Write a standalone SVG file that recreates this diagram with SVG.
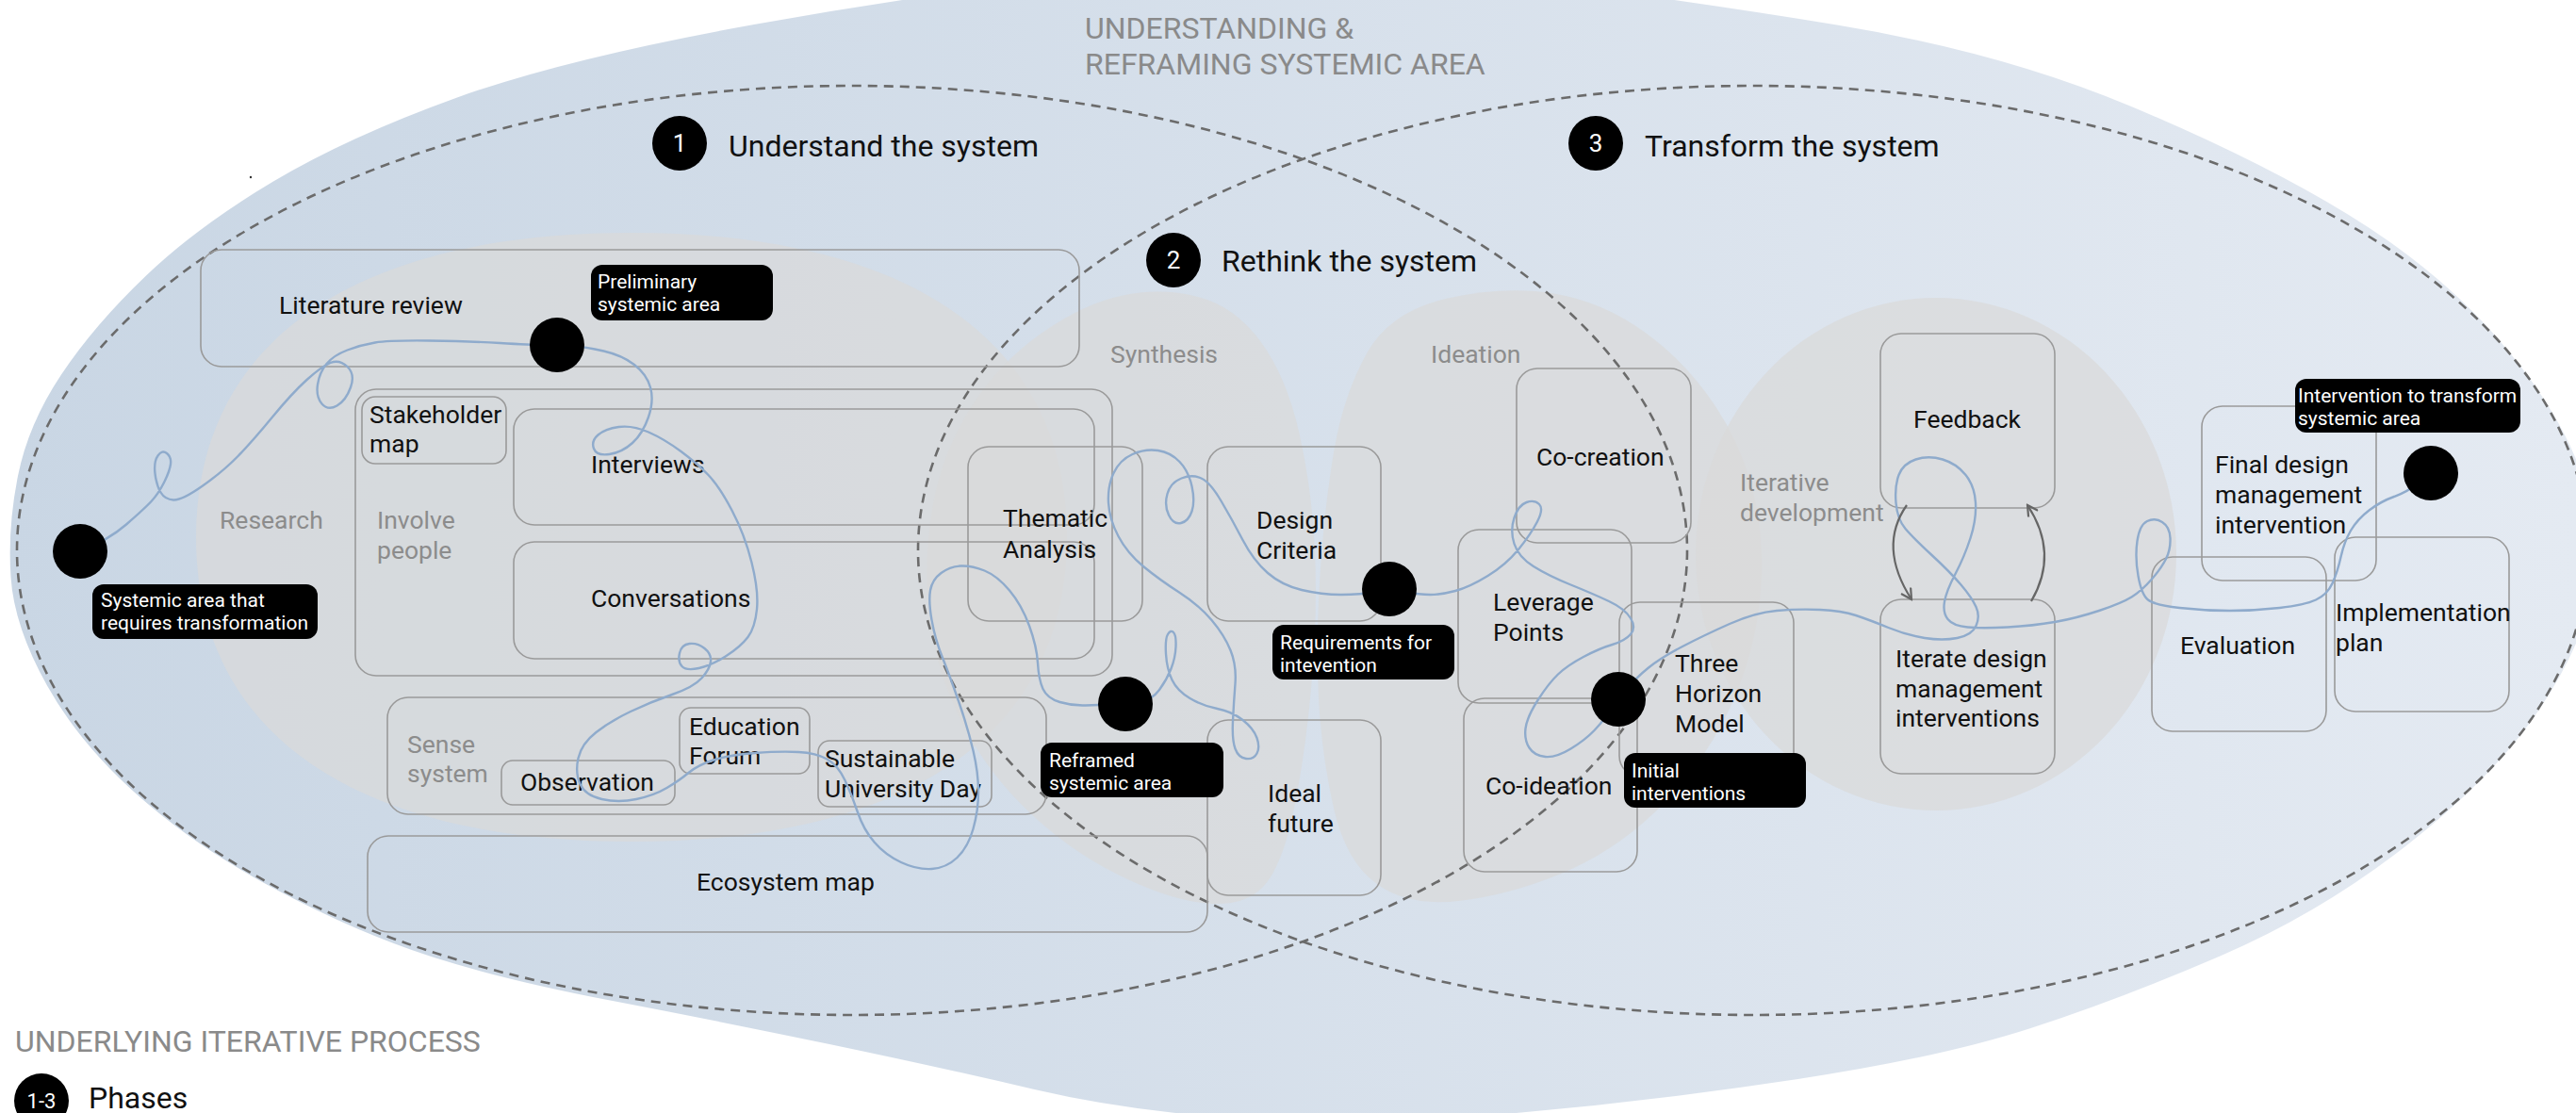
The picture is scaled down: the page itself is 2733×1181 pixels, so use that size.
<svg xmlns="http://www.w3.org/2000/svg" width="2733" height="1181" viewBox="0 0 2733 1181">
<defs>
<linearGradient id="bg" gradientUnits="userSpaceOnUse" x1="0" y1="0" x2="2733" y2="0">
<stop offset="0" stop-color="#c9d6e4"/>
<stop offset="1" stop-color="#e4eaf2"/>
</linearGradient>
<marker id="chev" viewBox="0 0 14 14" refX="12" refY="7" markerWidth="14" markerHeight="14" markerUnits="userSpaceOnUse" orient="auto">
<path d="M1,1 L12,7 L1,13" fill="none" stroke="#666" stroke-width="2.2"/>
</marker>
<style>
text{font-family:Roboto,"Liberation Sans",Arial,sans-serif}
.box{fill:none;stroke:#9a9a9a;stroke-width:1.6}
.lbl{font-size:26.5px;fill:#111}
.stage{font-size:26.5px;fill:#8c8c8c}
.tag{fill:#000}
.tagt{font-size:21px;fill:#fff}
.dash{fill:none;stroke:#6b6b6b;stroke-width:2.6;stroke-dasharray:10 7}
.blob{fill:#d9d9d9;fill-opacity:0.72}
.dot{fill:#000}
.trail{fill:none;stroke:#8fabcc;stroke-width:2.4;stroke-linecap:round;stroke-linejoin:round}
.arr{fill:none;stroke:#666;stroke-width:2.2;marker-end:url(#chev)}
.head{font-size:32px;fill:#111}
.cap{font-size:32px;fill:#8a8a8a}
.num{font-size:26px;fill:#fff;text-anchor:middle}
</style>
</defs>
<rect width="2733" height="1181" fill="#fff"/>
<g id="background">
<path fill="url(#bg)" d="M1193.5,-30 Q1387,-50 1581,-26 Q1775,-2 1949,26.5 Q2123,55 2260,112.5 Q2397,170 2491,227.5 Q2585,285 2648.5,357.5 Q2712,430 2737,497.5 Q2762,565 2751,625 Q2740,685 2692.5,755 Q2645,825 2554,896.5 Q2463,968 2356.5,1014 Q2250,1060 2154.5,1091 Q2059,1122 1907.5,1145 Q1756,1168 1603,1181.5 Q1450,1195 1325,1187.5 Q1200,1180 1097.5,1156 Q995,1132 880,1108 Q765,1084 650,1062 Q535,1040 457.5,1015 Q380,990 295,945 Q210,900 147.5,845 Q85,790 50,727.5 Q15,665 11.5,612.5 Q8,560 19,505 Q30,450 65,397.5 Q100,345 155,292.5 Q210,240 290,192.5 Q370,145 485,103.5 Q600,62 800,26 Q1000,-10 1193.5,-30 Z"/>
<path class="blob" d="M670,247 C966,247 1132,363 1132,570 C1132,777 966,893 670,893 C374,893 208,777 208,570 C208,363 374,247 670,247 Z"/>
<path class="blob" d="M1191,313.5 Q1232,305 1271,315 Q1310,325 1337.5,362.5 Q1365,400 1378.5,460 Q1392,520 1395,585 Q1398,650 1391.5,725 Q1385,800 1372.5,860 Q1360,920 1340,941 Q1320,962 1280,958.5 Q1240,955 1185,927.5 Q1130,900 1085,855 Q1040,810 1015,755 Q990,700 985,645 Q980,590 990,535 Q1000,480 1030,432.5 Q1060,385 1105,353.5 Q1150,322 1191,313.5 Z"/>
<path class="blob" d="M1536,316.5 Q1597,303 1648.5,311.5 Q1700,320 1745,352.5 Q1790,385 1821,432.5 Q1852,480 1863,535 Q1874,590 1865.5,650 Q1857,710 1828.5,765 Q1800,820 1755,862.5 Q1710,905 1655,927.5 Q1600,950 1547.5,956 Q1495,962 1461.5,938.5 Q1428,915 1415,857.5 Q1402,800 1399,740 Q1396,680 1400.5,610 Q1405,540 1415,480 Q1425,420 1450,375 Q1475,330 1536,316.5 Z"/>
<ellipse class="blob" cx="2054" cy="588" rx="255" ry="272"/>
<ellipse class="dash" cx="904" cy="584" rx="886" ry="493"/>
<ellipse class="dash" cx="1860" cy="584" rx="886" ry="493"/>
<circle cx="266" cy="188" r="1.2" fill="#333"/>
</g>
<g id="titles">
<text class="cap" x="1151" y="41">UNDERSTANDING &amp;</text>
<text class="cap" x="1151" y="79">REFRAMING SYSTEMIC AREA</text>
<g id="phase-1"><circle class="dot" cx="721" cy="152" r="29"/><text class="num" x="721" y="161">1</text><text class="head" x="773" y="166">Understand the system</text></g>
<g id="phase-2"><circle class="dot" cx="1245" cy="276" r="29"/><text class="num" x="1245" y="285">2</text><text class="head" x="1296" y="288">Rethink the system</text></g>
<g id="phase-3"><circle class="dot" cx="1693" cy="152" r="29"/><text class="num" x="1693" y="161">3</text><text class="head" x="1745" y="166">Transform the system</text></g>
</g>
<g id="stages">
<text class="stage" x="233" y="561">Research</text>
<text class="stage" x="1178" y="385">Synthesis</text>
<text class="stage" x="1518" y="385">Ideation</text>
<text class="stage" x="1846" y="521">Iterative</text>
<text class="stage" x="1846" y="553">development</text>
</g>
<g id="literature-review"><rect class="box" x="213" y="265" width="932" height="124" rx="22"/><text class="lbl" x="296" y="333">Literature review</text></g>
<g id="involve-people"><rect class="box" x="377" y="413" width="803" height="304" rx="22"/><text class="stage" x="400" y="561">Involve</text><text class="stage" x="400" y="593">people</text></g>
<g id="stakeholder-map"><rect class="box" x="384" y="421" width="153" height="71" rx="14"/><text class="lbl" x="392" y="449">Stakeholder</text><text class="lbl" x="392" y="480">map</text></g>
<g id="interviews"><rect class="box" x="545" y="434" width="616" height="123" rx="22"/><text class="lbl" x="627" y="502">Interviews</text></g>
<g id="conversations"><rect class="box" x="545" y="575" width="616" height="124" rx="22"/><text class="lbl" x="627" y="644">Conversations</text></g>
<g id="sense-system"><rect class="box" x="411" y="740" width="699" height="124" rx="22"/><text class="stage" x="432" y="799">Sense</text><text class="stage" x="432" y="830">system</text></g>
<g id="observation"><rect class="box" x="532" y="807" width="184" height="47" rx="12"/><text class="lbl" x="552" y="839">Observation</text></g>
<g id="education-forum"><rect class="box" x="721" y="751" width="138" height="70" rx="12"/><text class="lbl" x="731" y="780">Education</text><text class="lbl" x="731" y="811">Forum</text></g>
<g id="sustainable-university-day"><rect class="box" x="868" y="786" width="184" height="70" rx="12"/><text class="lbl" x="875" y="814">Sustainable</text><text class="lbl" x="875" y="846">University Day</text></g>
<g id="ecosystem-map"><rect class="box" x="390" y="887" width="891" height="102" rx="22"/><text class="lbl" x="739" y="945">Ecosystem map</text></g>
<g id="thematic-analysis"><rect class="box" x="1027" y="474" width="185" height="185" rx="22"/><text class="lbl" x="1064" y="559">Thematic</text><text class="lbl" x="1064" y="592">Analysis</text></g>
<g id="design-criteria"><rect class="box" x="1281" y="474" width="184" height="185" rx="22"/><text class="lbl" x="1333" y="561">Design</text><text class="lbl" x="1333" y="593">Criteria</text></g>
<g id="ideal-future"><rect class="box" x="1281" y="764" width="184" height="186" rx="22"/><text class="lbl" x="1345" y="851">Ideal</text><text class="lbl" x="1345" y="883">future</text></g>
<g id="co-creation"><rect class="box" x="1609" y="391" width="185" height="185" rx="22"/><text class="lbl" x="1630" y="494">Co-creation</text></g>
<g id="leverage-points"><rect class="box" x="1547" y="562" width="184" height="184" rx="22"/><text class="lbl" x="1584" y="648">Leverage</text><text class="lbl" x="1584" y="680">Points</text></g>
<g id="co-ideation"><rect class="box" x="1553" y="741" width="184" height="184" rx="22"/><text class="lbl" x="1576" y="843">Co-ideation</text></g>
<g id="three-horizon-model"><rect class="box" x="1718" y="639" width="185" height="185" rx="22"/><text class="lbl" x="1777" y="713">Three</text><text class="lbl" x="1777" y="745">Horizon</text><text class="lbl" x="1777" y="777">Model</text></g>
<g id="feedback"><rect class="box" x="1995" y="354" width="185" height="185" rx="22"/><text class="lbl" x="2030" y="454">Feedback</text></g>
<g id="iterate-design"><rect class="box" x="1995" y="636" width="185" height="185" rx="22"/><text class="lbl" x="2011" y="708">Iterate design</text><text class="lbl" x="2011" y="740">management</text><text class="lbl" x="2011" y="771">interventions</text></g>
<g id="final-design"><rect class="box" x="2336" y="431" width="185" height="185" rx="22"/><text class="lbl" x="2350" y="502">Final design</text><text class="lbl" x="2350" y="534">management</text><text class="lbl" x="2350" y="566">intervention</text></g>
<g id="evaluation"><rect class="box" x="2283" y="591" width="185" height="185" rx="22"/><text class="lbl" x="2313" y="694">Evaluation</text></g>
<g id="implementation-plan"><rect class="box" x="2477" y="570" width="185" height="185" rx="22"/><text class="lbl" x="2478" y="659">Implementation</text><text class="lbl" x="2478" y="691">plan</text></g>
<g id="connectors">
<path class="trail" d="M85,585 Q115,573 134,556.5 Q153,540 160.5,532 Q168,524 174,512 Q180,500 181,492.5 Q182,485 177,481 Q172,477 167.5,483.5 Q163,490 164.5,502.5 Q166,515 170.5,522.5 Q175,530 184,530.5 Q193,531 215,515.5 Q237,500 252.5,484 Q268,468 289,442.5 Q310,417 325.5,403 Q341,389 350.5,385 Q360,381 368.5,389 Q377,397 372,411 Q367,425 357.5,430.5 Q348,436 341.5,428.5 Q335,421 337,408 Q339,395 346.5,386 Q354,377 368.5,371.5 Q383,366 398,363.5 Q413,361 455.5,361.5 Q498,362 530.5,364 Q563,366 577,366 Q591,366 606,367 Q621,368 640.5,372.5 Q660,377 673,387 Q686,397 690,411 Q694,425 688,442.5 Q682,460 671,470 Q660,480 646.5,482 Q633,484 630,476 Q627,468 634.5,461.5 Q642,455 656.5,453 Q671,451 688,458.5 Q705,466 722.5,479 Q740,492 751.5,504 Q763,516 776.5,541.5 Q790,567 797.5,597 Q805,627 803,646.5 Q801,666 793.5,676 Q786,686 770.5,696 Q755,706 741.5,709 Q728,712 723.5,707 Q719,702 721,693 Q723,684 731.5,683 Q740,682 747.5,688 Q755,694 754,702 Q753,710 744.5,719.5 Q736,729 713,737 Q690,745 669,755 Q648,765 632.5,777 Q617,789 613.5,804.5 Q610,820 615.5,832 Q621,844 638.5,848 Q656,852 675,848 Q694,844 707.5,836 Q721,828 730.5,820 Q740,812 757,806.5 Q774,801 801,799 Q828,797 847,798 Q866,799 877.5,805.5 Q889,812 896.5,828 Q904,844 910,862 Q916,880 927.5,893.5 Q939,907 956,915 Q973,923 988.5,922 Q1004,921 1015.5,910 Q1027,899 1032.5,879.5 Q1038,860 1038,840 Q1038,820 1032.5,796.5 Q1027,773 1017.5,745.5 Q1008,718 1000,698 Q992,678 988.5,658 Q985,638 987,626.5 Q989,615 998.5,608 Q1008,601 1019.5,600.5 Q1031,600 1044.5,605.5 Q1058,611 1071,626.5 Q1084,642 1092,664 Q1100,686 1101,703.5 Q1102,721 1106.5,731 Q1111,741 1124.5,745 Q1138,749 1151.5,748.5 Q1165,748 1179.5,747.5 Q1194,747 1208,745 Q1222,743 1230,732 Q1238,721 1242.5,709.5 Q1247,698 1247.5,686 Q1248,674 1245,671 Q1242,668 1239,673 Q1236,678 1237,694 Q1238,710 1243.5,721.5 Q1249,733 1262.5,741 Q1276,749 1291.5,752 Q1307,755 1318.5,764 Q1330,773 1333.5,783 Q1337,793 1333.5,799.5 Q1330,806 1322,805 Q1314,804 1310.5,794.5 Q1307,785 1308,765 Q1309,745 1310.5,725.5 Q1312,706 1305.5,690 Q1299,674 1285.5,658 Q1272,642 1251,628.5 Q1230,615 1213,601 Q1196,587 1186.5,569 Q1177,551 1176,533.5 Q1175,516 1181.5,502 Q1188,488 1201.5,482 Q1215,476 1228.5,478 Q1242,480 1251.5,490 Q1261,500 1264.5,516 Q1268,532 1264.5,542.5 Q1261,553 1253,555 Q1245,557 1240,546.5 Q1235,536 1238.5,524 Q1242,512 1253.5,507.5 Q1265,503 1274.5,507.5 Q1284,512 1295.5,531.5 Q1307,551 1318.5,573 Q1330,595 1345,608 Q1360,621 1381,626 Q1402,631 1423,631 Q1444,631 1459,628 Q1474,625 1490,628 Q1506,631 1517.5,631 Q1529,631 1544,627 Q1559,623 1578.5,611 Q1598,599 1611,583 Q1624,567 1631,553.5 Q1638,540 1633,535 Q1628,530 1619.5,533 Q1611,536 1606.5,549.5 Q1602,563 1606.5,577 Q1611,591 1627,601 Q1643,611 1666.5,620.5 Q1690,630 1707,638 Q1724,646 1730,656 Q1736,666 1730,673 Q1724,680 1710.5,684 Q1697,688 1680,697 Q1663,706 1653,715.5 Q1643,725 1631.5,743 Q1620,761 1618.5,773 Q1617,785 1622.5,793.5 Q1628,802 1639.5,803 Q1651,804 1666.5,794.5 Q1682,785 1691.5,775 Q1701,765 1709,753.5 Q1717,742 1726.5,730.5 Q1736,719 1749,708.5 Q1762,698 1785,686 Q1808,674 1835,662 Q1862,650 1885,648 Q1908,646 1931,647 Q1954,648 1969,653 Q1984,658 2003.5,666 Q2023,674 2042,677 Q2061,680 2076.5,677 Q2092,674 2096.5,664 Q2101,654 2096.5,644 Q2092,634 2080.5,620.5 Q2069,607 2049.5,589 Q2030,571 2021.5,561 Q2013,551 2011.5,533.5 Q2010,516 2014.5,504 Q2019,492 2032.5,487.5 Q2046,483 2061,487.5 Q2076,492 2085.5,504 Q2095,516 2096,533.5 Q2097,551 2090.5,571 Q2084,591 2074.5,609 Q2065,627 2063,638.5 Q2061,650 2066.5,657 Q2072,664 2087.5,665.5 Q2103,667 2130,665.5 Q2157,664 2180,660 Q2203,656 2227,648 Q2251,640 2261.5,633.5 Q2272,627 2282.5,615 Q2293,603 2298,593 Q2303,583 2302.5,571 Q2302,559 2294,554 Q2286,549 2278,553 Q2270,557 2267.5,574 Q2265,591 2268.5,611 Q2272,631 2279,636.5 Q2286,642 2312.5,645 Q2339,648 2365.5,648 Q2392,648 2418.5,645 Q2445,642 2457,636.5 Q2469,631 2474.5,619 Q2480,607 2483.5,591 Q2487,575 2494,563 Q2501,551 2513.5,541.5 Q2526,532 2540,527 Q2554,522 2566.5,512 L2579,502"/>
<path class="arr" d="M2023,536 Q1992,580 2028,636"/>
<path class="arr" d="M2155,638 Q2185,587 2151,536"/>
</g>
<g id="milestones">
<g id="m-systemic-area"><circle class="dot" cx="85" cy="585" r="29"/><rect class="tag" x="98" y="620" width="239" height="58" rx="12"/><text class="tagt" x="107" y="644">Systemic area that</text><text class="tagt" x="107" y="668">requires transformation</text></g>
<g id="m-preliminary"><circle class="dot" cx="591" cy="366" r="29"/><rect class="tag" x="627" y="281" width="193" height="59" rx="12"/><text class="tagt" x="634" y="306">Preliminary</text><text class="tagt" x="634" y="330">systemic area</text></g>
<g id="m-reframed"><circle class="dot" cx="1194" cy="747" r="29"/><rect class="tag" x="1104" y="788" width="194" height="58" rx="12"/><text class="tagt" x="1113" y="814">Reframed</text><text class="tagt" x="1113" y="838">systemic area</text></g>
<g id="m-requirements"><circle class="dot" cx="1474" cy="625" r="29"/><rect class="tag" x="1350" y="663" width="193" height="58" rx="12"/><text class="tagt" x="1358" y="689">Requirements for</text><text class="tagt" x="1358" y="713">intevention</text></g>
<g id="m-initial"><circle class="dot" cx="1717" cy="742" r="29"/><rect class="tag" x="1723" y="799" width="193" height="58" rx="12"/><text class="tagt" x="1731" y="825">Initial</text><text class="tagt" x="1731" y="849">interventions</text></g>
<g id="m-intervention"><circle class="dot" cx="2579" cy="502" r="29"/><rect class="tag" x="2435" y="402" width="239" height="57" rx="12"/><text class="tagt" x="2438" y="427">Intervention to transform</text><text class="tagt" x="2438" y="451">systemic area</text></g>
</g>
<g id="legend">
<text class="cap" x="16" y="1116">UNDERLYING ITERATIVE PROCESS</text>
<circle class="dot" cx="44" cy="1168" r="29"/>
<text x="44" y="1176" style="font-size:22px;fill:#fff;text-anchor:middle">1-3</text>
<text class="head" x="94" y="1176">Phases</text>
</g>
</svg>
